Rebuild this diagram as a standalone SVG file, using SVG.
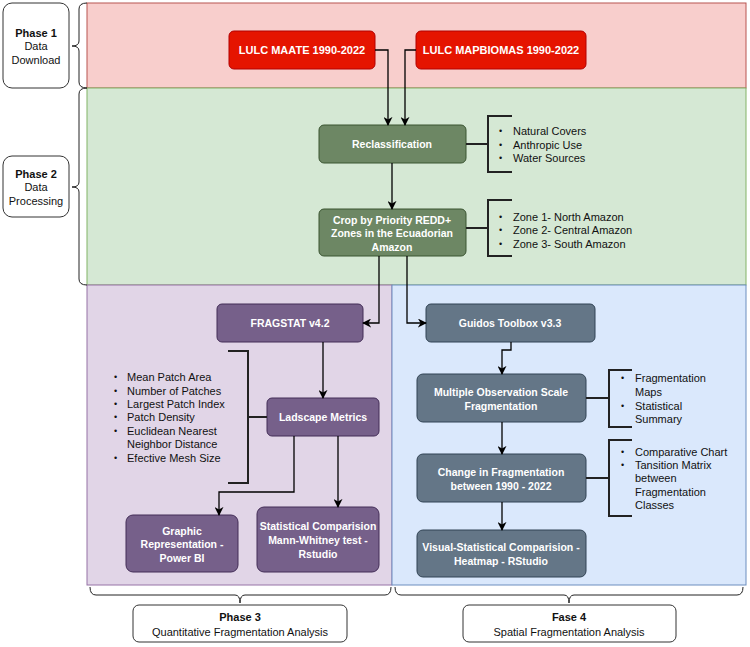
<svg xmlns="http://www.w3.org/2000/svg" width="750" height="647" viewBox="0 0 750 647">
<style>
text{font-family:"Liberation Sans",Arial,sans-serif;}
.nt{fill:#fff;font-weight:bold;font-size:10.5px;text-anchor:middle;}
.rt{fill:#fff;font-weight:bold;font-size:11px;text-anchor:middle;}
.lt{fill:#111;font-size:11px;}
.bu{fill:#111;font-size:9px;}
.lb{fill:#111;font-size:11px;text-anchor:middle;}
.lbb{fill:#111;font-size:11px;font-weight:bold;text-anchor:middle;}
.lbox{fill:#fff;stroke:#333;stroke-width:1;}
.conn{fill:none;stroke:#000;stroke-width:1.3;marker-end:url(#arr);}
.brk{fill:none;stroke:#222;stroke-width:2;}
.brace{fill:none;stroke:#222;stroke-width:1;}
</style>
<defs>
<marker id="arr" viewBox="0 0 10 10" refX="9" refY="5" markerWidth="9" markerHeight="9" markerUnits="userSpaceOnUse" orient="auto">
<path d="M0,0 L10,5 L0,10 L3,5 Z" fill="#000"/>
</marker>
</defs>
<rect width="750" height="647" fill="#fff"/>
<!-- panels -->
<g id="panels">
<rect x="87" y="3" width="659" height="85" fill="#f8cecc" stroke="#b85450"/>
<rect x="87" y="88" width="659" height="197" fill="#d5e8d4" stroke="#82b366"/>
<rect x="87" y="285" width="305" height="300" fill="#e1d5e7" stroke="#9673a6"/>
<rect x="392" y="285" width="354" height="300" fill="#dae8fc" stroke="#6c8ebf"/>
</g>
<!-- phase labels -->
<g id="phase1">
<rect class="lbox" x="3" y="3" width="66" height="85" rx="9"/>
<text class="lbb" x="36" y="37">Phase 1</text>
<text class="lb" x="36" y="50">Data</text>
<text class="lb" x="36" y="64">Download</text>
</g>
<g id="phase2">
<rect class="lbox" x="3" y="156" width="66" height="61" rx="9"/>
<text class="lbb" x="36" y="178">Phase 2</text>
<text class="lb" x="36" y="191">Data</text>
<text class="lb" x="36" y="205">Processing</text>
</g>
<g id="phase3">
<rect class="lbox" x="133" y="605" width="214" height="37" rx="6"/>
<text class="lbb" x="240" y="621">Phase 3</text>
<text class="lb" x="240" y="636">Quantitative Fragmentation Analysis</text>
</g>
<g id="phase4">
<rect class="lbox" x="463" y="605" width="213" height="37" rx="6"/>
<text class="lbb" x="569" y="621">Fase 4</text>
<text class="lb" x="569" y="636">Spatial Fragmentation Analysis</text>
</g>
<!-- braces -->
<g id="braces">
<path class="brace" d="M87,3 Q79,3 79,9 L79,41 Q79,46 72,46 Q79,46 79,51 L79,82 Q79,88 87,88"/>
<path class="brace" d="M87,88 Q79,88 79,94 L79,182 Q79,187 72,187 Q79,187 79,192 L79,279 Q79,285 87,285"/>
<path class="brace" d="M90,587 Q90,595 96,595 L235,595 Q240,595 240,603 Q240,595 245,595 L385,595 Q391,595 391,587"/>
<path class="brace" d="M395,587 Q395,595 401,595 L564,595 Q569,595 569,603 Q569,595 574,595 L737,595 Q743,595 743,587"/>
</g>
<!-- nodes -->
<g id="lulc_maate">
<rect x="229" y="31" width="146" height="38" rx="5" fill="#e51400" stroke="#b20000"/>
<text class="rt" x="302" y="54">LULC MAATE 1990-2022</text>
</g>
<g id="lulc_mapbiomas">
<rect x="416" y="31" width="170" height="38" rx="5" fill="#e51400" stroke="#b20000"/>
<text class="rt" x="501" y="54">LULC MAPBIOMAS 1990-2022</text>
</g>
<g id="reclassification">
<rect x="319" y="125" width="147" height="38" rx="5" fill="#6d8764" stroke="#3a5431"/>
<text class="nt" x="392" y="148">Reclassification</text>
</g>
<g id="crop">
<rect x="319" y="209" width="147" height="47" rx="5" fill="#6d8764" stroke="#3a5431"/>
<text class="nt" x="392" y="224">Crop by Priority REDD+</text>
<text class="nt" x="392" y="237">Zones in the Ecuadorian</text>
<text class="nt" x="392" y="251">Amazon</text>
</g>
<g id="fragstat">
<rect x="217" y="304" width="146" height="38" rx="5" fill="#76608a" stroke="#432d57"/>
<text class="nt" x="290" y="327">FRAGSTAT v4.2</text>
</g>
<g id="landscape_metrics">
<rect x="267" y="398" width="112" height="38" rx="5" fill="#76608a" stroke="#432d57"/>
<text class="nt" x="323" y="421">Ladscape Metrics</text>
</g>
<g id="graphic_representation">
<rect x="126" y="515" width="112" height="57" rx="7" fill="#76608a" stroke="#432d57"/>
<text class="nt" x="182" y="535">Graphic</text>
<text class="nt" x="182" y="548">Representation -</text>
<text class="nt" x="182" y="562">Power BI</text>
</g>
<g id="statistical_comparision">
<rect x="257" y="507" width="122" height="65" rx="7" fill="#76608a" stroke="#432d57"/>
<text class="nt" x="318" y="530">Statistical Comparision</text>
<text class="nt" x="318" y="544">Mann-Whitney test -</text>
<text class="nt" x="318" y="558">Rstudio</text>
</g>
<g id="guidos">
<rect x="426" y="304" width="169" height="38" rx="5" fill="#647687" stroke="#314354"/>
<text class="nt" x="510" y="327">Guidos Toolbox v3.3</text>
</g>
<g id="multiple_observation">
<rect x="417" y="374" width="169" height="48" rx="6" fill="#647687" stroke="#314354"/>
<text class="nt" x="501" y="396">Multiple Observation Scale</text>
<text class="nt" x="501" y="410">Fragmentation</text>
</g>
<g id="change_fragmentation">
<rect x="417" y="454" width="169" height="48" rx="6" fill="#647687" stroke="#314354"/>
<text class="nt" x="501" y="476">Change in Fragmentation</text>
<text class="nt" x="501" y="490">between 1990 - 2022</text>
</g>
<g id="visual_statistical">
<rect x="417" y="530" width="169" height="47" rx="6" fill="#647687" stroke="#314354"/>
<text class="nt" x="501" y="551">Visual-Statistical Comparision -</text>
<text class="nt" x="501" y="565">Heatmap - RStudio</text>
</g>
<!-- bullet lists -->
<g id="list_reclass">
<path class="brk" d="M466,144 H488 M512,116 H488 V172 H512"/>
<text class="bu" x="499" y="134">•</text><text class="lt" x="513" y="135">Natural Covers</text>
<text class="bu" x="499" y="148">•</text><text class="lt" x="513" y="149">Anthropic Use</text>
<text class="bu" x="499" y="161">•</text><text class="lt" x="513" y="162">Water Sources</text>
</g>
<g id="list_zones">
<path class="brk" d="M466,228 H488 M512,200 H488 V256 H512"/>
<text class="bu" x="499" y="220">•</text><text class="lt" x="513" y="221">Zone 1- North Amazon</text>
<text class="bu" x="499" y="233">•</text><text class="lt" x="513" y="234">Zone 2- Central Amazon</text>
<text class="bu" x="499" y="247">•</text><text class="lt" x="513" y="248">Zone 3- South Amazon</text>
</g>
<g id="list_metrics">
<path class="brk" d="M267,417 H248 M228,351 H248 V483 H228"/>
<text class="bu" x="114" y="380">•</text><text class="lt" x="127" y="381">Mean Patch Area</text>
<text class="bu" x="114" y="394">•</text><text class="lt" x="127" y="395">Number of Patches</text>
<text class="bu" x="114" y="407">•</text><text class="lt" x="127" y="408">Largest Patch Index</text>
<text class="bu" x="114" y="420">•</text><text class="lt" x="127" y="421">Patch Density</text>
<text class="bu" x="114" y="434">•</text><text class="lt" x="127" y="435">Euclidean Nearest</text>
<text class="lt" x="127" y="448">Neighbor Distance</text>
<text class="bu" x="114" y="461">•</text><text class="lt" x="127" y="462">Efective Mesh Size</text>
</g>
<g id="list_maps">
<path class="brk" d="M586,398 H609 M632,370 H609 V427 H632"/>
<text class="bu" x="621" y="381">•</text><text class="lt" x="635" y="382">Fragmentation</text>
<text class="lt" x="635" y="396">Maps</text>
<text class="bu" x="621" y="409">•</text><text class="lt" x="635" y="410">Statistical</text>
<text class="lt" x="635" y="423">Summary</text>
</g>
<g id="list_change">
<path class="brk" d="M586,478 H609 M632,440 H609 V516 H632"/>
<text class="bu" x="621" y="455">•</text><text class="lt" x="635" y="456">Comparative Chart</text>
<text class="bu" x="621" y="468">•</text><text class="lt" x="635" y="469">Tansition Matrix</text>
<text class="lt" x="635" y="482">between</text>
<text class="lt" x="635" y="496">Fragmentation</text>
<text class="lt" x="635" y="509">Classes</text>
</g>
<!-- connectors -->
<g id="connectors">
<path class="conn" d="M375,50 H388 V125"/>
<path class="conn" d="M416,50 H405 V125"/>
<path class="conn" d="M392,163 V209"/>
<path class="conn" d="M379,256 V323 H363"/>
<path class="conn" d="M407,256 V323 H426"/>
<path class="conn" d="M323,342 V398"/>
<path class="conn" d="M294,436 V492 H219 V515"/>
<path class="conn" d="M338,436 V507"/>
<path class="conn" d="M511,342 V350 H502 V374"/>
<path class="conn" d="M502,422 V454"/>
<path class="conn" d="M502,502 V530"/>
</g>
</svg>
